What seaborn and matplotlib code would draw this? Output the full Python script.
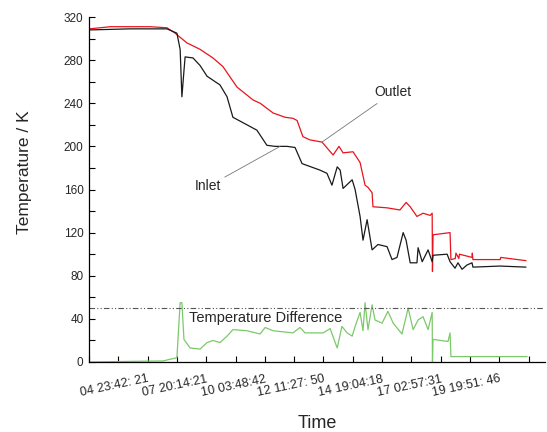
import numpy as np
import pandas as pd
import matplotlib
matplotlib.use("Agg")
import matplotlib.pyplot as plt
from matplotlib.ticker import MultipleLocator
import seaborn as sns

# --- Data (x = sample index) ---
outlet_idx = [0, 38, 72, 140, 208, 266, 294, 334, 379, 423, 457, 505, 560, 584, 628, 669,
              696, 710, 730, 754, 795, 833, 853, 867, 901, 925, 942, 952, 966, 969, 1017,
              1061, 1082, 1096, 1119, 1140, 1164, 1171, 1172, 1174, 1232, 1235, 1250, 1252,
              1262, 1264, 1307, 1308, 1310, 1403, 1405, 1491]
outlet_T = [309, 310, 311, 311, 311, 310, 305, 296, 290, 282, 274, 255, 243, 240, 231, 227,
            226, 224, 209, 206, 204, 192, 200, 194, 195, 185, 164, 162, 157, 144, 143,
            141, 148, 144, 135, 138, 136, 138, 84, 118, 120, 95, 96, 101,
            96, 100, 97, 101, 95, 95, 97, 94]

inlet_idx = [0, 140, 266, 300, 311, 317, 324, 328, 355, 379, 403, 447, 471, 491, 539, 573,
             607, 635, 676, 703, 727, 788, 812, 829, 847, 857, 867, 898, 908, 925, 935,
             949, 966, 986, 1017, 1034, 1051, 1072, 1082, 1096, 1119, 1123, 1137, 1157,
             1171, 1174, 1222, 1232, 1249, 1259, 1273, 1290, 1307, 1310, 1403, 1491]
inlet_T = [308, 309, 309, 305, 290, 246, 270, 283, 282, 275, 265, 257, 246, 227, 220, 215,
           201, 200, 200, 199, 184, 178, 175, 164, 181, 178, 161, 169, 160, 135, 113,
           132, 104, 109, 107, 95, 97, 120, 113, 92, 92, 106, 93, 104,
           93, 99, 100, 93, 87, 92, 86, 90, 92, 88, 89, 88]

diff_idx = [0, 253, 300, 311, 317, 324, 345, 379, 403, 423, 447, 471, 491, 539, 584, 601,
            628, 696, 720, 737, 799, 823, 840, 847, 863, 881, 898, 908, 925, 935, 942,
            952, 966, 976, 1000, 1020, 1038, 1068, 1089, 1106, 1123, 1140, 1157, 1171,
            1172, 1174, 1225, 1232, 1235, 1495]
diff_T = [0, 1, 4, 55, 55, 21, 13, 12, 18, 20, 18, 24, 30, 29, 26, 32,
          29, 27, 32, 27, 27, 31, 18, 13, 33, 27, 24, 33, 46, 29, 55,
          30, 53, 39, 36, 47, 36, 26, 50, 30, 39, 42, 30, 46,
          0, 21, 19, 27, 5, 5]

threshold = 50
time_labels = ["04 23:42: 21", "07 20:14:21", "10 03:48:42", "12 11:27: 50",
               "14 19:04:18", "17 02:57:31", "19 19:51: 46"]
label_idx = [200, 400, 600, 800, 1000, 1200, 1400]

sns.set_style("ticks")
plt.rcParams['font.family'] = ['Liberation Sans', 'DejaVu Sans']

fig = plt.figure(figsize=(5.47, 4.32), dpi=100)
ax = fig.add_axes([89 / 547, 70 / 432, 456 / 547, 345 / 432])

sns.lineplot(x=outlet_idx, y=outlet_T, sort=False, estimator=None, color="#e8141b", lw=0.9, ax=ax)
sns.lineplot(x=inlet_idx, y=inlet_T, sort=False, estimator=None, color="#1a1a1a", lw=0.9, ax=ax)
sns.lineplot(x=diff_idx, y=diff_T, sort=False, estimator=None, color="#7cc96a", lw=0.9, ax=ax)
ax.axhline(threshold, color="#555555", lw=0.8, ls=(0, (5, 2, 1, 2, 1, 2)))

# annotations
ax.annotate("Outlet", xy=(795, 204), xytext=(1037, 250), fontsize=10, ha="center", va="center",
            arrowprops=dict(arrowstyle="-", color="#777777", lw=0.6, shrinkA=1, shrinkB=0))
ax.annotate("Inlet", xy=(652, 200), xytext=(407, 163), fontsize=10, ha="center", va="center",
            arrowprops=dict(arrowstyle="-", color="#777777", lw=0.6, shrinkA=0, shrinkB=0))
ax.text(604, 41, "Temperature Difference", fontsize=10.5, ha="center", va="center")

ax.set_xlim(0, 1556)
ax.set_ylim(0, 320)
ax.set_xticks(label_idx, labels=time_labels, minor=False)
ax.xaxis.set_minor_locator(MultipleLocator(100))
ax.yaxis.set_major_locator(MultipleLocator(40))
ax.yaxis.set_minor_locator(MultipleLocator(20))
ax.tick_params(which="both", direction="in", width=0.8, color="black", length=4)
ax.tick_params(axis="y", labelsize=8.5, pad=4)
ax.tick_params(axis="x", labelsize=9, pad=8)
for lbl in ax.get_xticklabels():
    lbl.set_rotation(12)
    lbl.set_ha("right")
    lbl.set_rotation_mode("anchor")

ax.set_xlabel("Time", fontsize=13, labelpad=11)
ax.set_ylabel("Temperature / K", fontsize=12.5)
ax.yaxis.set_label_coords(-0.125, 0.55)
sns.despine(ax=ax)
for s in ax.spines.values():
    s.set_color("black")
    s.set_linewidth(0.9)

fig.savefig("out.png", dpi=100)
